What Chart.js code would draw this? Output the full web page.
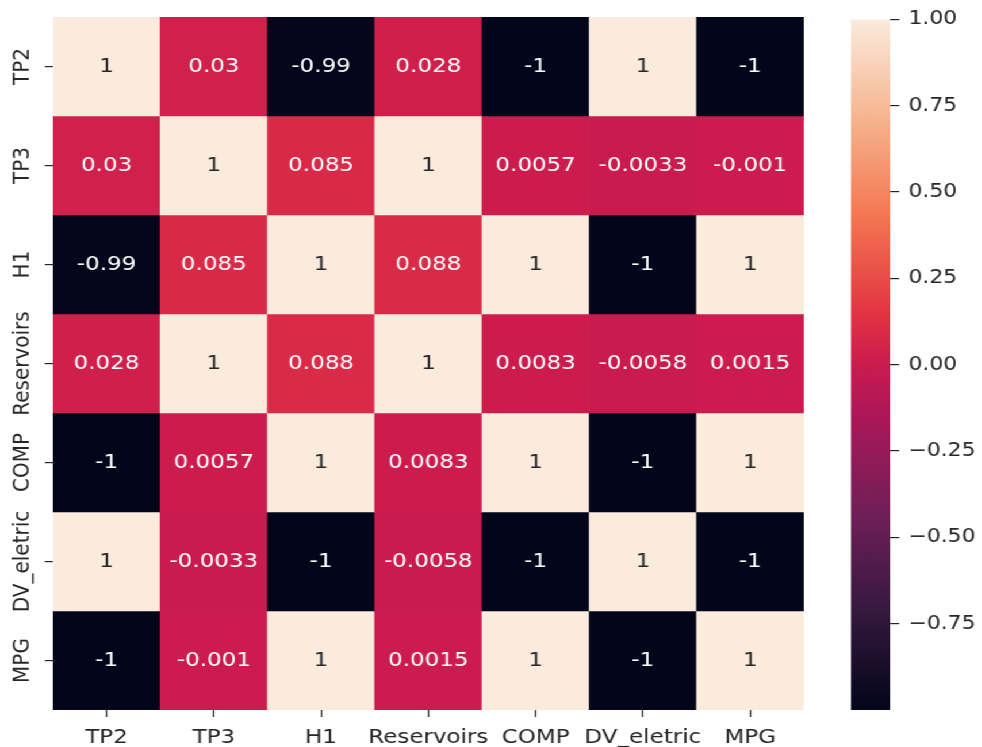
<!DOCTYPE html>
<html lang="en">
<head>
<meta charset="UTF-8">
<title>Correlation heatmap</title>
<script src="https://cdn.jsdelivr.net/npm/chart.js"></script>
<style>
  body { margin: 0; background: #fff; }
  #wrap { position: absolute; left: 0; top: 0; width: 854px; height: 747px; transform: scaleX(1.15); transform-origin: 0 0; }
  #heat { position: absolute; left: 0; top: 0; }
  #cbar { position: absolute; left: 700px; top: 0; }
</style>
</head>
<body>
<div id="wrap">
  <canvas id="heat" width="700" height="747"></canvas>
  <canvas id="cbar" width="154" height="747"></canvas>
</div>
<script>
// variables (same order on both axes)
var names = ['TP2', 'TP3', 'H1', 'Reservoirs', 'COMP', 'DV_eletric', 'MPG'];

// correlation rows
var tp2        = [1, 0.03, -0.99, 0.028, -1, 1, -1];
var tp3        = [0.03, 1, 0.085, 1, 0.0057, -0.0033, -0.001];
var h1         = [-0.99, 0.085, 1, 0.088, 1, -1, 1];
var reservoirs = [0.028, 1, 0.088, 1, 0.0083, -0.0058, 0.0015];
var comp       = [-1, 0.0057, 1, 0.0083, 1, -1, 1];
var dvEletric  = [1, -0.0033, -1, -0.0058, -1, 1, -1];
var mpg        = [-1, -0.001, 1, 0.0015, 1, -1, 1];
var matrix = [tp2, tp3, h1, reservoirs, comp, dvEletric, mpg];

// colorbar ticks
var cbTicks = [-0.75, -0.5, -0.25, 0, 0.25, 0.5, 0.75, 1];

// seaborn "rocket" colormap, approximated
var rocket = [
  [0, '#03051a'], [0.143, '#35193e'], [0.286, '#701f57'], [0.429, '#ad1759'],
  [0.5, '#cb1b4f'], [0.571, '#e13342'], [0.714, '#f37651'], [0.857, '#f6b48f'], [1, '#faebdd']
];
var vmin = -1, vmax = 1;
var textDark = '#262626';

function hexRgb(h) {
  return [parseInt(h.substr(1, 2), 16), parseInt(h.substr(3, 2), 16), parseInt(h.substr(5, 2), 16)];
}
function rocketRgb(v) {
  var t = Math.max(0, Math.min(1, (v - vmin) / (vmax - vmin)));
  for (var i = 1; i < rocket.length; i++) {
    if (t <= rocket[i][0]) {
      var a = rocket[i - 1], b = rocket[i];
      var f = (t - a[0]) / (b[0] - a[0]);
      var ca = hexRgb(a[1]), cb = hexRgb(b[1]);
      return ca.map(function (c, k) { return Math.round(c + (cb[k] - c) * f); });
    }
  }
  return hexRgb(rocket[rocket.length - 1][1]);
}
function rgbStr(c) { return 'rgb(' + c[0] + ',' + c[1] + ',' + c[2] + ')'; }
function luminance(c) {
  var l = c.map(function (x) { x /= 255; return x <= 0.03928 ? x / 12.92 : Math.pow((x + 0.055) / 1.055, 2.4); });
  return 0.2126 * l[0] + 0.7152 * l[1] + 0.0722 * l[2];
}

Chart.defaults.font.family = '"DejaVu Sans", sans-serif';
Chart.defaults.color = textDark;

// one dataset per row, floating bars [row, row+1]
var datasets = matrix.map(function (row, r) {
  return {
    label: names[r],
    data: row.map(function () { return [r, r + 1]; }),
    values: row,
    backgroundColor: row.map(function (v) { return rgbStr(rocketRgb(v)); }),
    borderWidth: 0,
    grouped: false,
    barPercentage: 1,
    categoryPercentage: 1
  };
});

// writes the value in every cell
var annotate = {
  id: 'annotate',
  afterDatasetsDraw: function (chart) {
    var ctx = chart.ctx;
    ctx.save();
    ctx.font = '20px "DejaVu Sans", sans-serif';
    ctx.textAlign = 'center';
    ctx.textBaseline = 'middle';
    chart.data.datasets.forEach(function (ds, r) {
      chart.getDatasetMeta(r).data.forEach(function (el, c) {
        var v = ds.values[c];
        var p = el.getCenterPoint();
        ctx.fillStyle = luminance(rocketRgb(v)) > 0.408 ? textDark : '#ffffff';
        ctx.fillText(String(Number(v.toPrecision(2))), p.x, p.y);
      });
    });
    ctx.restore();
  }
};

var tickGrid = {
  display: true,
  drawOnChartArea: false,
  drawTicks: true,
  tickLength: 7,
  offset: false,
  color: textDark,
  lineWidth: 1.2
};

new Chart(document.getElementById('heat'), {
  type: 'bar',
  data: { labels: names, datasets: datasets },
  plugins: [annotate],
  options: {
    responsive: false,
    animation: false,
    layout: { padding: { top: 17, left: 0, right: 1, bottom: 0 } },
    plugins: { legend: { display: false }, tooltip: { enabled: false } },
    scales: {
      x: {
        type: 'category',
        offset: true,
        grid: tickGrid,
        border: { display: false },
        ticks: { font: { size: 20 }, padding: 9, minRotation: 0, maxRotation: 0, autoSkip: false },
        afterFit: function (s) { s.height = 37; }
      },
      y: {
        type: 'linear',
        min: 0,
        max: 7,
        reverse: true,
        afterBuildTicks: function (s) {
          s.ticks = names.map(function (n, i) { return { value: i + 0.5 }; });
        },
        grid: tickGrid,
        border: { display: false },
        ticks: {
          font: { size: 20 },
          minRotation: 90,
          maxRotation: 90,
          autoSkip: false,
          crossAlign: 'center',
          padding: -33,
          callback: function (v, i) { return names[i]; }
        },
        afterFit: function (s) { s.width = 46; }
      }
    }
  }
});

// colorbar
new Chart(document.getElementById('cbar'), {
  type: 'bar',
  data: {
    labels: [''],
    datasets: [{
      data: [[vmin, vmax]],
      backgroundColor: function (c) {
        var ca = c.chart.chartArea;
        if (!ca) return rocket[4][1];
        var g = c.chart.ctx.createLinearGradient(0, ca.bottom, 0, ca.top);
        rocket.forEach(function (s) { g.addColorStop(s[0], s[1]); });
        return g;
      },
      borderWidth: 0,
      barPercentage: 1,
      categoryPercentage: 1
    }]
  },
  options: {
    responsive: false,
    animation: false,
    layout: { padding: { left: 40, top: 17, right: 0, bottom: 37 } },
    plugins: { legend: { display: false }, tooltip: { enabled: false } },
    scales: {
      x: { display: false },
      y: {
        position: 'right',
        min: vmin,
        max: vmax,
        afterBuildTicks: function (s) {
          s.ticks = cbTicks.map(function (v) { return { value: v }; });
        },
        grid: { display: true, drawOnChartArea: false, tickLength: 8, color: textDark, lineWidth: 1.2 },
        border: { display: false },
        ticks: {
          font: { size: 19 },
          padding: 8,
          callback: function (v) { return v.toFixed(2).replace('-', '\u2212'); }
        },
        afterFit: function (s) { s.width = 80; }
      }
    }
  }
});
</script>
</body>
</html>
